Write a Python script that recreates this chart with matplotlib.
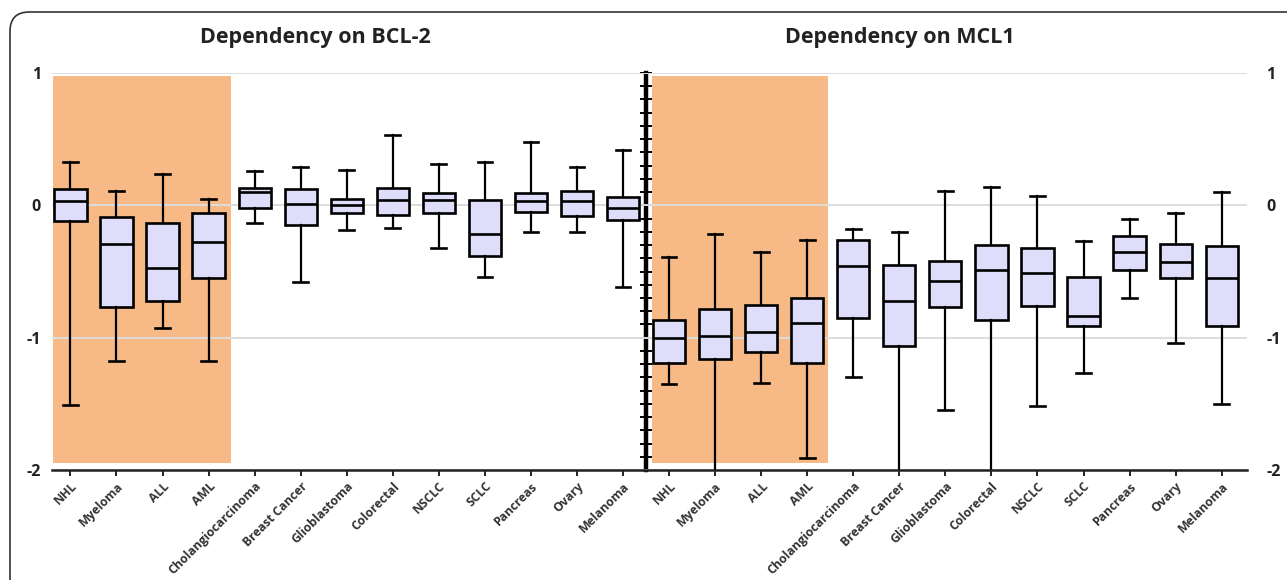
import matplotlib
matplotlib.use("Agg")
import matplotlib.pyplot as plt
from matplotlib.patches import FancyBboxPatch
import numpy as np

plt.rcParams["font.family"] = ["Open Sans", "DejaVu Sans"]

categories = ["NHL", "Myeloma", "ALL", "AML", "Cholangiocarcinoma", "Breast Cancer",
              "Glioblastoma", "Colorectal", "NSCLC", "SCLC", "Pancreas", "Ovary", "Melanoma"]

# BCL-2 dependency (box stats)
bcl2_whislo = [-1.51, -1.18, -0.93, -1.18, -0.13, -0.58, -0.19, -0.17, -0.32, -0.54, -0.20, -0.20, -0.62]
bcl2_q1 = [-0.12, -0.77, -0.72, -0.55, -0.02, -0.15, -0.06, -0.07, -0.06, -0.38, -0.05, -0.08, -0.11]
bcl2_med = [0.03, -0.29, -0.47, -0.28, 0.10, 0.01, 0.00, 0.04, 0.04, -0.22, 0.03, 0.03, -0.02]
bcl2_q3 = [0.12, -0.09, -0.13, -0.06, 0.13, 0.12, 0.05, 0.13, 0.09, 0.04, 0.09, 0.11, 0.06]
bcl2_whishi = [0.33, 0.11, 0.24, 0.05, 0.26, 0.29, 0.27, 0.53, 0.31, 0.33, 0.48, 0.29, 0.42]

# MCL1 dependency
mcl1_whislo = [-1.35, -2.05, -1.34, -1.91, -1.30, -2.05, -1.55, -2.05, -1.52, -1.27, -0.70, -1.04, -1.50]
mcl1_q1 = [-1.19, -1.16, -1.11, -1.19, -0.85, -1.06, -0.77, -0.87, -0.76, -0.91, -0.49, -0.55, -0.91]
mcl1_med = [-1.00, -0.99, -0.96, -0.89, -0.46, -0.72, -0.57, -0.49, -0.51, -0.84, -0.35, -0.43, -0.55]
mcl1_q3 = [-0.87, -0.78, -0.75, -0.70, -0.26, -0.45, -0.42, -0.30, -0.32, -0.54, -0.23, -0.29, -0.31]
mcl1_whishi = [-0.39, -0.22, -0.35, -0.26, -0.18, -0.20, 0.11, 0.14, 0.07, -0.27, -0.10, -0.06, 0.10]

y_ticks = [-2, -1, 0, 1]
ORANGE = "#f7b986"
BOX_FACE = "#dedefa"
W, H = 1287, 580


def make_stats(lo, q1, med, q3, hi):
    return [{"whislo": a, "q1": b, "med": c, "q3": d, "whishi": e, "fliers": []}
            for a, b, c, d, e in zip(lo, q1, med, q3, hi)]


fig = plt.figure(figsize=(W / 100, H / 100), dpi=100)
ax = fig.add_axes([52 / W, 110 / H, 1195 / W, 397 / H])

n = len(categories)
left_pos = np.arange(n)
right_pos = np.arange(n) + n

# shaded haematological groups
ax.axvspan(-0.38, 3.49, ymin=0.017, ymax=0.993, color=ORANGE, lw=0, zorder=0)
ax.axvspan(12.63, 16.45, ymin=0.017, ymax=0.993, color=ORANGE, lw=0, zorder=0)

box_kw = dict(
    widths=0.7,
    patch_artist=True,
    showfliers=False,
    boxprops=dict(facecolor=BOX_FACE, edgecolor="black", linewidth=1.9),
    medianprops=dict(color="black", linewidth=1.9),
    whiskerprops=dict(color="black", linewidth=1.6),
    capprops=dict(color="black", linewidth=1.9),
    capwidths=0.32,
)
ax.bxp(make_stats(bcl2_whislo, bcl2_q1, bcl2_med, bcl2_q3, bcl2_whishi),
       positions=left_pos, **box_kw)
ax.bxp(make_stats(mcl1_whislo, mcl1_q1, mcl1_med, mcl1_q3, mcl1_whishi),
       positions=right_pos, **box_kw)

ax.set_xlim(-0.4, 25.55)
ax.set_ylim(-2, 1)
ax.set_yticks(y_ticks)
ax.set_yticklabels([str(t) for t in y_ticks], fontsize=11.5, fontweight="bold", color="#222222")
ax.tick_params(axis="y", length=0, pad=8)
ax.yaxis.grid(True, color="#dddddd", linewidth=1.4)
ax.set_axisbelow(True)

ax.set_xticks(np.concatenate([left_pos, right_pos]))
ax.set_xticklabels(categories + categories, rotation=45, ha="right",
                   rotation_mode="anchor", fontsize=8.8, fontweight="bold", color="#333333")
ax.tick_params(axis="x", direction="out", length=4, width=1.4, color="#222222", pad=3)

for side in ["left", "right", "top"]:
    ax.spines[side].set_visible(False)
ax.spines["bottom"].set_color("#222222")
ax.spines["bottom"].set_linewidth(1.8)

# right-hand tick labels
axr = ax.twinx()
axr.set_ylim(ax.get_ylim())
axr.set_yticks(y_ticks)
axr.set_yticklabels([str(t) for t in y_ticks], fontsize=11.5, fontweight="bold", color="#222222")
axr.tick_params(axis="y", length=0, pad=14)
for side in ["left", "right", "top", "bottom"]:
    axr.spines[side].set_visible(False)

# central divider axis with fine ticks
mid = (12.5 - ax.get_xlim()[0]) / (ax.get_xlim()[1] - ax.get_xlim()[0])
sec = ax.secondary_yaxis(mid)
sec.set_yticks(np.arange(-20, 11) / 10)
sec.tick_params(axis="y", direction="inout", length=8, width=1.4, color="black",
                labelleft=False, labelright=False)
sec.spines["left"].set_linewidth(3.2)
sec.spines["left"].set_color("black")

fig.text(315 / W, 1 - 38 / H, "Dependency on BCL-2", ha="center", va="center",
         fontsize=15.5, fontweight="bold", color="#222222")
fig.text(900 / W, 1 - 38 / H, "Dependency on MCL1", ha="center", va="center",
         fontsize=15.5, fontweight="bold", color="#222222")

frame = FancyBboxPatch((10 / W, -0.1), 1.1, 1 - 12 / H + 0.1,
                       boxstyle="round,pad=0,rounding_size=0.015", mutation_aspect=W / H,
                       transform=fig.transFigure, facecolor="none", edgecolor="#333333",
                       linewidth=1.2, clip_on=False)
fig.patches.append(frame)

fig.savefig("out.png", dpi=100)
